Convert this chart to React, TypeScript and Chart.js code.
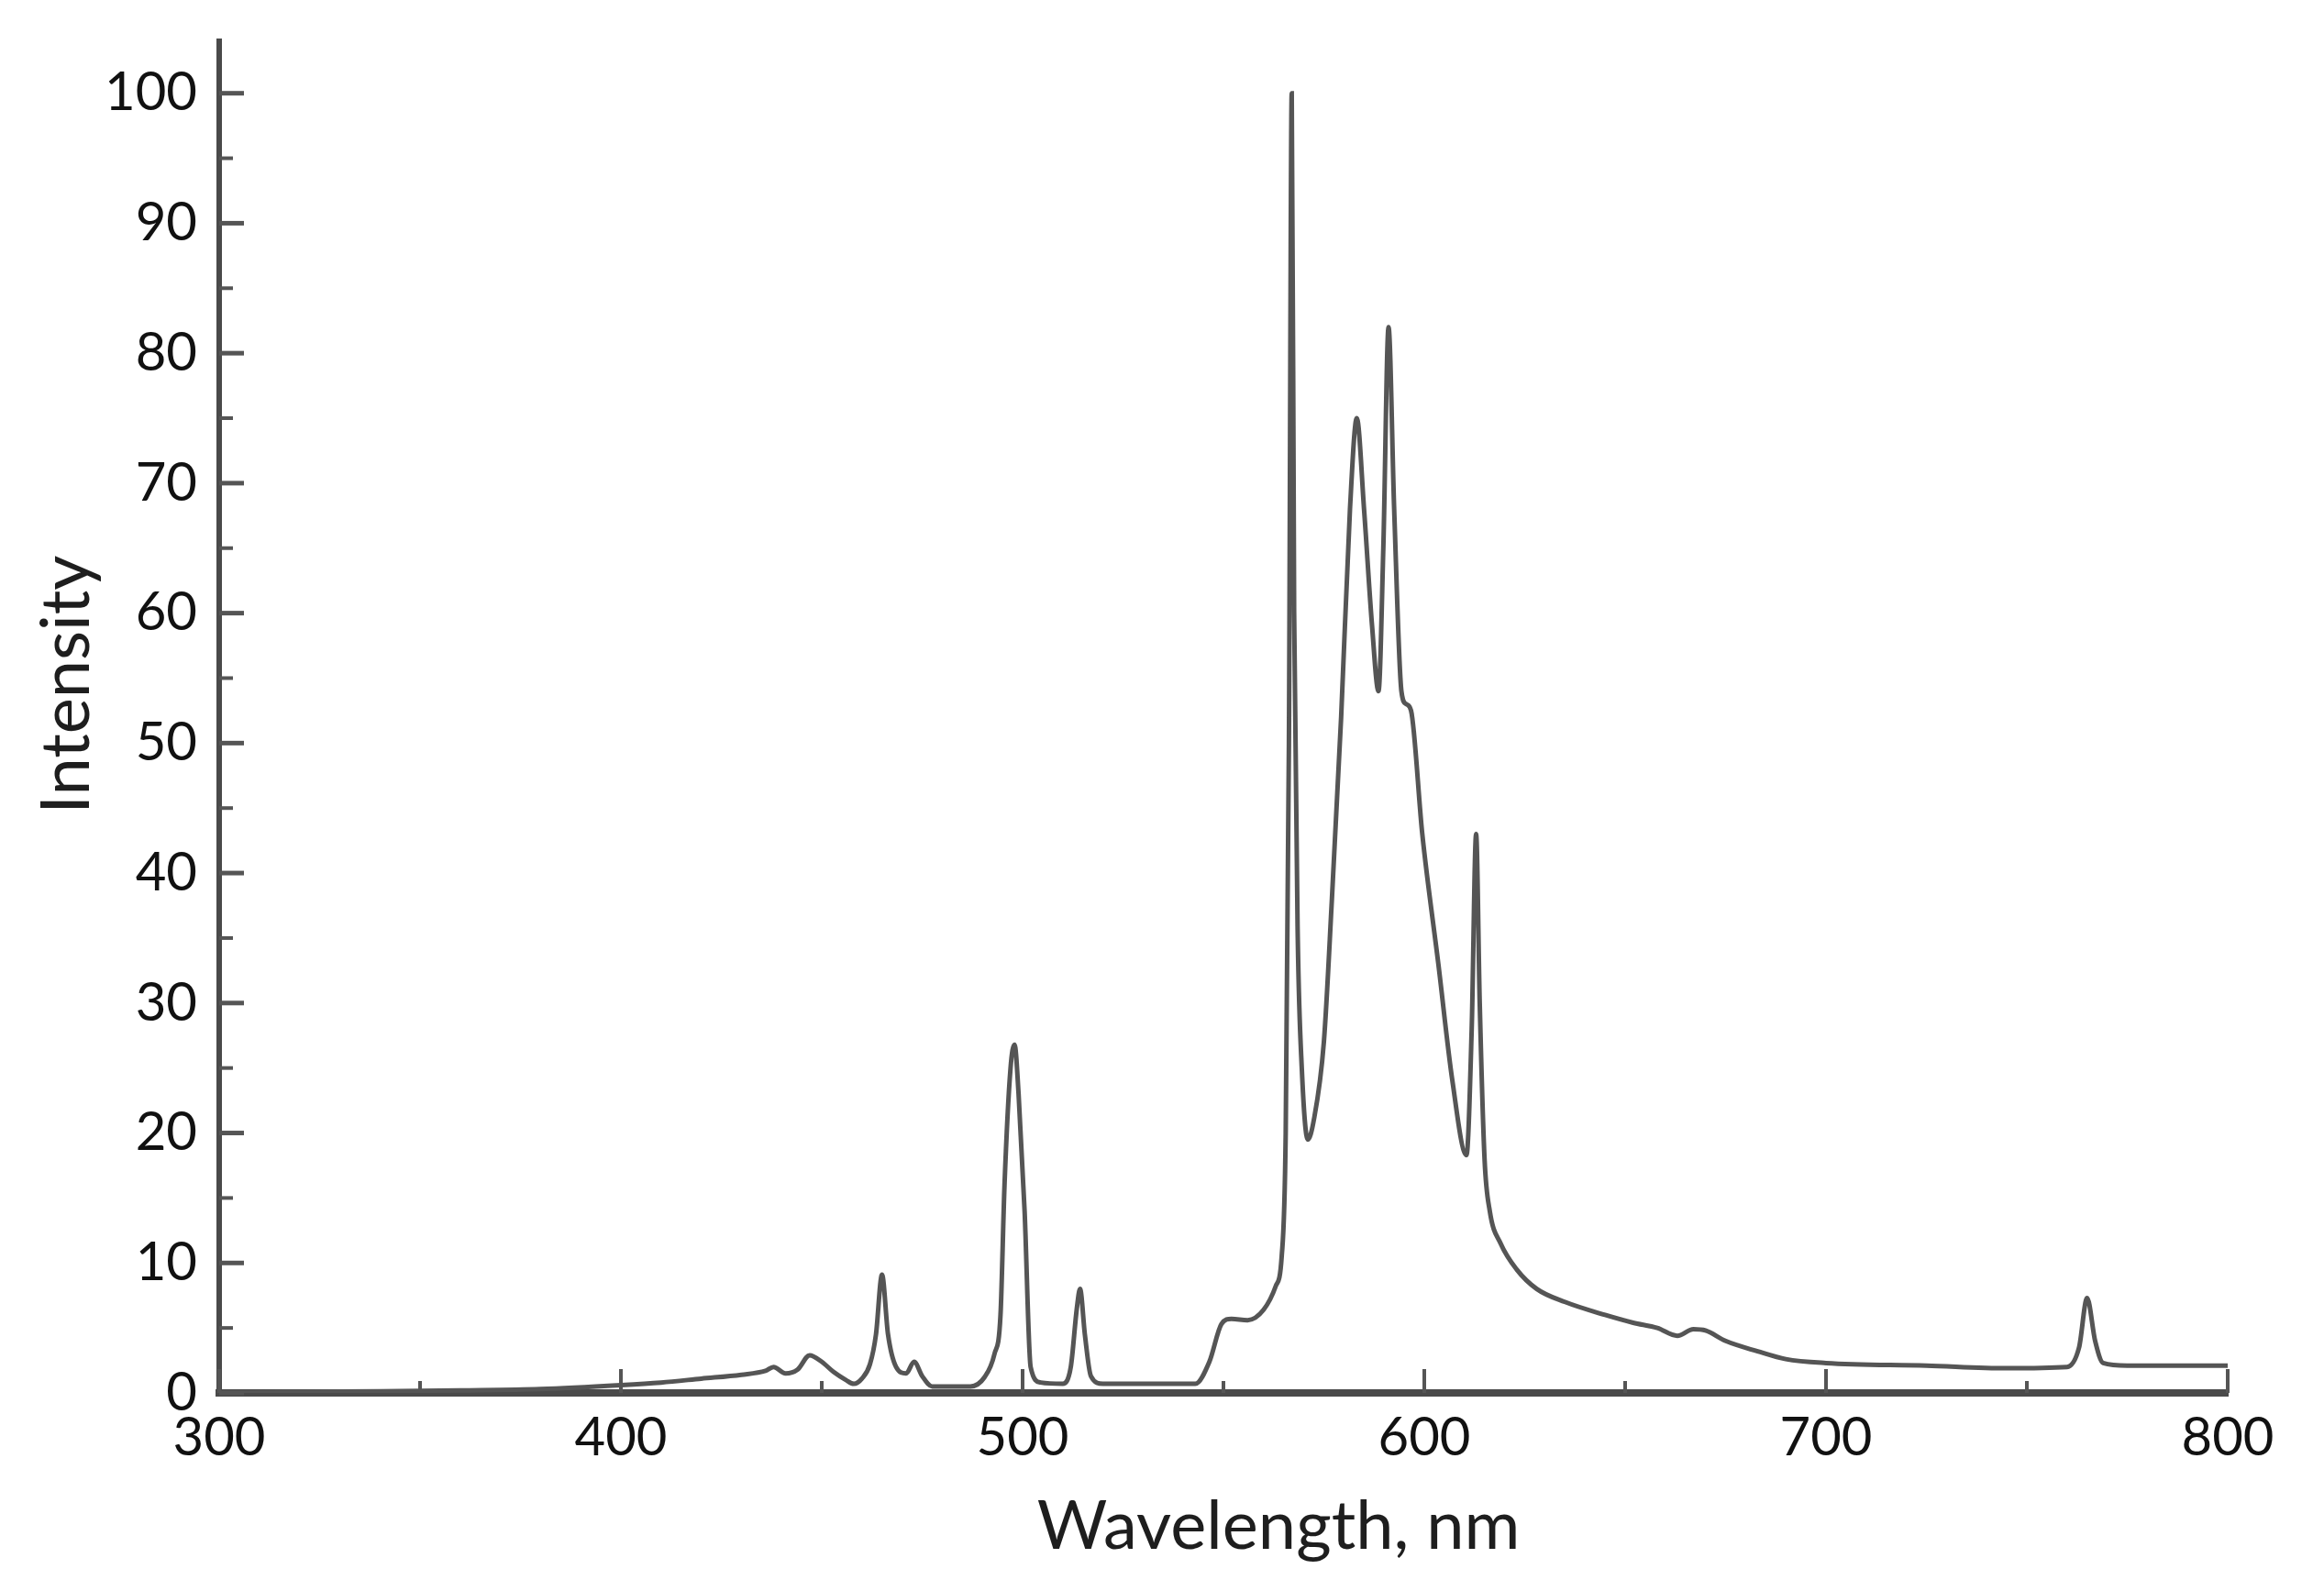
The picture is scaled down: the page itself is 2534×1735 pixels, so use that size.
import React, { useEffect, useRef } from "react";
import { Chart, registerables } from "chart.js";

Chart.register(...registerables);

// ---- Data ----
const wavelengths: number[] = [
  300, 330, 360, 380, 400, 410, 420, 430, 436, 438, 441, 444, 447, 450, 453, 456, 458, 460, 462, 463.5,
  465, 466.5, 468.5, 471, 473, 475, 477.5, 487, 490.5, 493, 494.5, 495.5, 497, 498, 499, 500.5, 502,
  504.5, 510, 512, 513.5, 514.3, 515.5, 517, 520, 543, 546.5, 549.5, 552, 556, 560, 563, 564.5, 565.5,
  566.3, 567, 567.6, 568.5, 569.5, 571, 572.5, 575, 577, 579.3, 581.5, 583.2, 585, 587, 588.6, 589.8,
  591.1, 592.5, 594.3, 595.5, 596.7, 599.5, 603.5, 607, 610.5, 611.8, 612.9, 613.8, 615, 616.3, 619,
  623, 628, 635, 645, 652, 658, 663, 667, 670, 675, 683, 690, 700, 725, 745, 760, 763, 765, 767, 769,
  775, 800,
];
const intensities: number[] = [
  0, 0.1, 0.2, 0.3, 0.6, 0.8, 1.1, 1.4, 1.7, 2.0, 1.5, 1.8, 2.9, 2.4, 1.6, 1.0, 0.7, 1.1, 2.2, 4.5,
  9.1, 4.5, 2.0, 1.5, 2.4, 1.3, 0.5, 0.5, 1.2, 3, 6, 16, 25, 26.8, 23, 14, 2,
  0.8, 0.7, 2.0, 6.5, 8.0, 4.5, 1.3, 0.7, 0.7, 2.4, 5.3, 5.7, 5.6, 6.4, 8.2, 10.5, 20,
  50, 100, 60, 35, 25, 19.5, 21, 27, 38, 52, 68, 75, 68, 59, 54, 65,
  82, 68, 54, 53, 52.5, 43, 33, 24, 18.3, 28, 43, 30, 18, 14, 11.5,
  9.5, 8, 7, 6, 5.4, 5, 4.4, 4.9, 4.8, 4, 3.2, 2.6, 2.3, 2.1, 1.9, 2.0, 3.5, 7.3, 4, 2.3,
  2.1, 2.1,
];

const xTicks: number[] = [300, 400, 500, 600, 700, 800];
const xMinorTicks: number[] = [350, 450, 550, 650, 750];
const yTicks: number[] = [0, 10, 20, 30, 40, 50, 60, 70, 80, 90, 100];
const yMinorTicks: number[] = [5, 15, 25, 35, 45, 55, 65, 75, 85, 95];

const xTitle = "Wavelength, nm";
const yTitle = "Intensity";

const W = 2534;
const H = 1735;

const decorPlugin = {
  id: "decor",
  afterDraw(chart: any) {
    const { ctx, chartArea, scales } = chart;
    const xs = scales.x;
    const ys = scales.y;
    ctx.save();
    ctx.strokeStyle = "#555555";
    ctx.lineCap = "butt";
    const seg = (x1: number, y1: number, x2: number, y2: number, w: number) => {
      ctx.lineWidth = w;
      ctx.beginPath();
      ctx.moveTo(x1, y1);
      ctx.lineTo(x2, y2);
      ctx.stroke();
    };
    yTicks.forEach((v) => {
      const py = ys.getPixelForValue(v);
      seg(chartArea.left, py, chartArea.left + 27, py, 5);
    });
    yMinorTicks.forEach((v) => {
      const py = ys.getPixelForValue(v);
      seg(chartArea.left, py, chartArea.left + 15, py, 4);
    });
    xTicks.forEach((v) => {
      const px = xs.getPixelForValue(v);
      seg(px, chartArea.bottom, px, chartArea.bottom - 26, 4);
    });
    xMinorTicks.forEach((v) => {
      const px = xs.getPixelForValue(v);
      seg(px, chartArea.bottom, px, chartArea.bottom - 13, 4);
    });

    // axis titles
    ctx.fillStyle = "#1e1e1e";
    ctx.font = "74px Lato";
    ctx.textAlign = "center";
    ctx.textBaseline = "alphabetic";
    const cx = (chartArea.left + chartArea.right) / 2 + 60;
    ctx.fillText(xTitle, cx, chartArea.bottom + 170);
    ctx.translate(chartArea.left - 142, ys.getPixelForValue(54.5));
    ctx.rotate(-Math.PI / 2);
    ctx.fillText(yTitle, 0, 0);
    ctx.restore();
  },
};

export default function App() {
  const ref = useRef<HTMLCanvasElement | null>(null);

  useEffect(() => {
    document.body.style.margin = "0";
    document.body.style.background = "#ffffff";
    const canvas = ref.current;
    if (!canvas) return;
    const points = wavelengths.map((x, i) => ({ x, y: intensities[i] }));
    const chart = new Chart(canvas, {
      type: "line",
      data: {
        datasets: [
          {
            data: points,
            borderColor: "#555555",
            borderWidth: 5,
            pointRadius: 0,
            fill: false,
            cubicInterpolationMode: "monotone",
          },
        ],
      },
      options: {
        animation: false,
        responsive: false,
        devicePixelRatio: 1,
        layout: { padding: { top: 45, right: 105, bottom: 0, left: 0 } },
        plugins: {
          legend: { display: false },
          tooltip: { enabled: false },
          title: { display: false },
        },
        scales: {
          x: {
            type: "linear",
            min: 300,
            max: 800,
            afterBuildTicks: (s: any) => {
              s.ticks = xTicks.map((v) => ({ value: v }));
            },
            afterFit: (s: any) => {
              s.height = 216;
              s.paddingLeft = 0;
              s.paddingRight = 0;
            },
            grid: { display: true, drawOnChartArea: false, drawTicks: false },
            border: { display: true, color: "#4a4a4a", width: 8 },
            ticks: {
              color: "#111111",
              font: { family: "Lato", size: 58 },
              padding: 14,
              maxRotation: 0,
              autoSkip: false,
            },
          },
          y: {
            type: "linear",
            min: 0,
            max: 104,
            afterBuildTicks: (s: any) => {
              s.ticks = yTicks.map((v) => ({ value: v }));
            },
            afterFit: (s: any) => {
              s.width = 239;
              s.paddingTop = 0;
              s.paddingBottom = 0;
            },
            grid: { display: true, drawOnChartArea: false, drawTicks: false },
            border: { display: true, color: "#4a4a4a", width: 6 },
            ticks: {
              color: "#111111",
              font: { family: "Lato", size: 58 },
              padding: 24,
              autoSkip: false,
            },
          },
        },
      },
      plugins: [decorPlugin],
    });
    return () => chart.destroy();
  }, []);

  return <canvas ref={ref} width={W} height={H} style={{ display: "block", width: W, height: H }} />;
}
